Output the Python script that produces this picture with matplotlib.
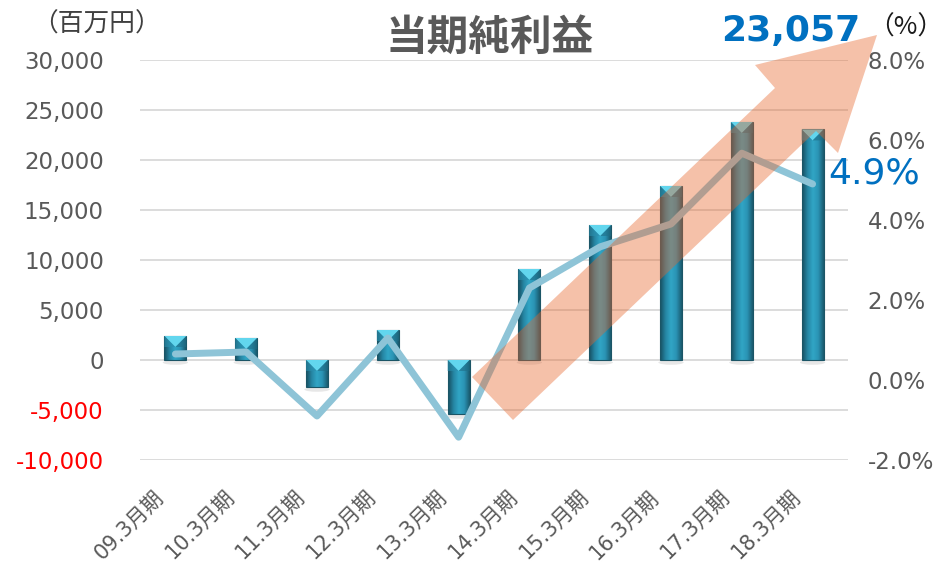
import matplotlib
matplotlib.use('Agg')
import matplotlib.pyplot as plt
import numpy as np
from matplotlib.patches import Polygon, Rectangle, Ellipse
from matplotlib.colors import LinearSegmentedColormap
import matplotlib.transforms as mtransforms

# ---- data ----
categories = ['09.3月期', '10.3月期', '11.3月期', '12.3月期', '13.3月期',
              '14.3月期', '15.3月期', '16.3月期', '17.3月期', '18.3月期']
net_income = [2400, 2200, -2700, 3000, -5400, 9100, 13500, 17400, 23800, 23057]  # 百万円
net_margin = [0.65, 0.7, -0.9, 1.05, -1.43, 2.3, 3.33, 3.9, 5.67, 4.9]            # %
left_ticks = [-10000, -5000, 0, 5000, 10000, 15000, 20000, 25000, 30000]
right_ticks = [-2, 0, 2, 4, 6, 8]
title = '当期純利益'
left_unit = '（百万円）'
right_unit = '（%）'

plt.rcParams['font.family'] = ['DejaVu Sans', 'Noto Sans CJK JP']
CJK = ['Noto Sans CJK JP', 'DejaVu Sans']

W, H = 951, 574
fig = plt.figure(figsize=(W / 100, H / 100), dpi=100)
fig.patch.set_facecolor('white')

def fx(px):
    return px / W

def fy(py):
    return 1 - py / H

ax = fig.add_axes([fx(140), fy(460), fx(848) - fx(140), fy(60) - fy(460)])
ax.set_xlim(-0.5, len(categories) - 0.5)
ax.set_ylim(left_ticks[0], left_ticks[-1])
ax2 = ax.twinx()
ax2.set_ylim(right_ticks[0], right_ticks[-1])

for a in (ax, ax2):
    for s in a.spines.values():
        s.set_visible(False)

# grid
ax.set_yticks(left_ticks)
ax.yaxis.grid(True, color='#d9d9d9', lw=1.3, zorder=0)
ax.set_axisbelow(True)
ax.set_yticklabels([f'{t:,}' for t in left_ticks], fontsize=16.5)
for lbl, t in zip(ax.get_yticklabels(), left_ticks):
    lbl.set_color('#ff0000' if t < 0 else '#595959')
ax.tick_params(axis='y', length=0, pad=26)

ax2.set_yticks(right_ticks)
ax2.set_yticklabels([f'{t:.1f}%' for t in right_ticks], fontsize=16.5, color='#595959')
ax2.tick_params(axis='y', length=0, pad=14)

ax.set_xticks(range(len(categories)))
ax.set_xticklabels(categories, rotation=45, ha='right', va='center',
                   rotation_mode='anchor', fontsize=15, color='#595959')
ax.tick_params(axis='x', length=0, pad=24)
off = mtransforms.ScaledTranslation(-11 / 72, 0, fig.dpi_scale_trans)
for lbl in ax.get_xticklabels():
    lbl.set_transform(lbl.get_transform() + off)

# bars with gradient
cmap = LinearSegmentedColormap.from_list(
    'teal', ['#174f60', '#2585a3', '#31a6c6', '#2a93b4', '#1a5a6d'])
grad = np.linspace(0, 1, 64).reshape(1, -1)
bw = 0.31
bevel = 1100
for i, v in enumerate(net_income):
    x0, x1 = i - bw / 2, i + bw / 2
    lo, hi = min(0, v), max(0, v)
    ax.add_patch(Ellipse((i, lo - 250), bw * 1.15, 450, fc='#7a7a7a', ec='none',
                         alpha=0.18, zorder=1.5))
    ax.imshow(grad, cmap=cmap, extent=(x0, x1, lo, hi), aspect='auto',
              interpolation='bicubic', zorder=2)
    ax.add_patch(Rectangle((x0, lo), bw, hi - lo, fill=False, ec='#1b5566',
                           lw=0.8, zorder=3))
    ax.add_patch(Polygon([(x0, hi), (x1, hi), (i, hi - bevel)], closed=True,
                         fc='#62d6ee', ec='none', zorder=3))
    ax.add_patch(Polygon([(x0, hi), (i, hi - bevel), (x0, hi - bevel)], closed=True,
                         fc='#2a8fae', ec='none', zorder=3, alpha=0.6))
    ax.add_patch(Polygon([(x1, hi), (i, hi - bevel), (x1, hi - bevel)], closed=True,
                         fc='#1f6f88', ec='none', zorder=3, alpha=0.6))
ax.set_aspect('auto')
ax.set_xlim(-0.5, len(categories) - 0.5)
ax.set_ylim(left_ticks[0], left_ticks[-1])

# margin line
ax2.plot(range(len(categories)), net_margin, color='#8ec4d7', lw=5,
         solid_capstyle='round', solid_joinstyle='round', zorder=4)

# big decorative arrow
pts = [(472, 377), (775, 88), (755, 65), (877, 35), (838, 153), (816, 131), (513, 420)]
arrow = Polygon([(fx(x), fy(y)) for x, y in pts], closed=True, transform=fig.transFigure,
                fc='#e6642a', ec='none', alpha=0.4, zorder=5)
fig.patches.append(arrow)

# texts
fig.text(fx(490), fy(38), title, fontsize=30, fontweight='bold', color='#595959',
         ha='center', va='center', family=CJK, zorder=10)
fig.text(fx(32), fy(25), left_unit, fontsize=18.5, color='#404040',
         ha='left', va='center', family=CJK, zorder=10)
fig.text(fx(868), fy(28), right_unit, fontsize=18.5, color='#1a1a1a',
         ha='left', va='center', family=CJK, zorder=10)
fig.text(fx(860), fy(31), f'{net_income[-1]:,}', fontsize=26, fontweight='bold',
         color='#0070c0', ha='right', va='center', zorder=10)
fig.text(fx(828), fy(174), f'{net_margin[-1]:.1f}%', fontsize=26, color='#0070c0',
         ha='left', va='center', zorder=10)

fig.savefig('out.png', dpi=100)
